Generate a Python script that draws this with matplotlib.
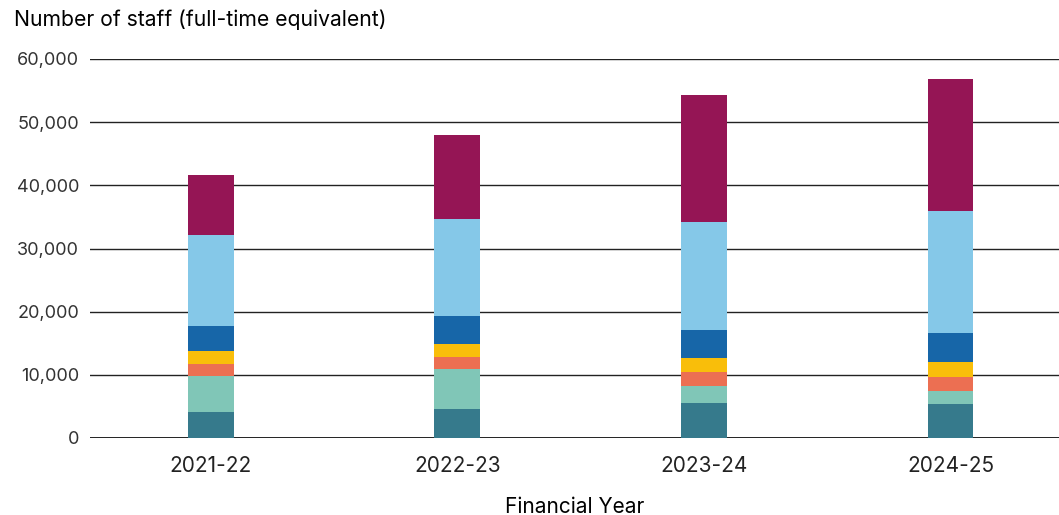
import matplotlib
matplotlib.use("Agg")
import matplotlib.pyplot as plt
import numpy as np

plt.rcParams['font.family'] = ['Inter', 'DejaVu Sans']

years = ['2021-22', '2022-23', '2023-24', '2024-25']

# staff numbers per group, bottom of the stack first
group1 = [4060, 4530, 5480, 5320]
group2 = [5690, 6320, 2690, 2060]
group3 = [1890, 2050, 2210, 2210]
group4 = [2060, 2060, 2210, 2510]
group5 = [4100, 4420, 4580, 4580]
group6 = [14380, 15330, 17060, 19290]
group7 = [9480, 13270, 20070, 20850]

series = [group1, group2, group3, group4, group5, group6, group7]
colors = ['#367A8C', '#80C6B7', '#EC6F52', '#F9BE0A', '#1766A8', '#85C8E8', '#951555']

fig = plt.figure(figsize=(10.59, 5.15), dpi=100)
ax = fig.add_axes([90 / 1059, 1 - 438 / 515, 969 / 1059, (438 - 59) / 515])

x = np.arange(len(years))
bottom = np.zeros(len(years))
for vals, c in zip(series, colors):
    ax.bar(x, vals, width=0.186, bottom=bottom, color=c, zorder=3)
    bottom += np.array(vals)

ax.set_ylim(0, 60000)
ax.set_xlim(-0.49, 3.44)
yt = np.arange(0, 60001, 10000)
ax.set_yticks(yt)
ax.set_yticklabels(['{:,}'.format(v) for v in yt], fontsize=13, color='#333333')
ax.set_xticks(x)
ax.set_xticklabels(years, fontsize=15, color='#222222')
ax.tick_params(axis='both', length=0)
ax.tick_params(axis='y', pad=8)
ax.tick_params(axis='x', pad=13)

for v in yt:
    ax.axhline(v, color='#222222', lw=1.0 if v else 1.4, zorder=2)
for s in ax.spines.values():
    s.set_visible(False)

ax.set_xlabel('Financial Year', fontsize=15, labelpad=15)
fig.text(14 / 1059, 1 - 20 / 515, 'Number of staff (full-time equivalent)',
         fontsize=15.2, va='center', ha='left')

fig.savefig('out.png', dpi=100)
